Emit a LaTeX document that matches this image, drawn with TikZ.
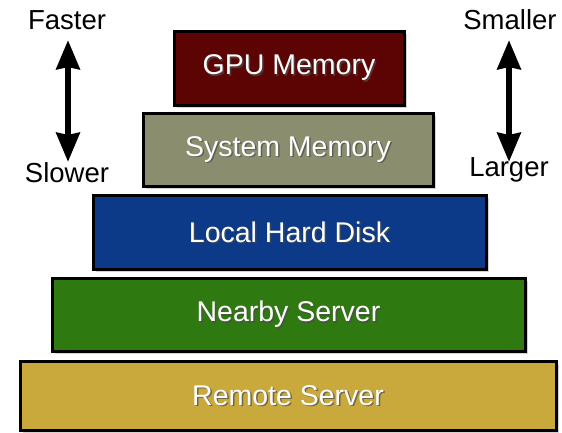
\documentclass[tikz,border=0pt]{standalone}
\usepackage{fontspec}
\setmainfont{Liberation Sans}
\usetikzlibrary{arrows.meta,shadows}
\definecolor{gpuc}{HTML}{5C0303}
\definecolor{sysc}{HTML}{8A8E6E}
\definecolor{hddc}{HTML}{0C3A88}
\definecolor{nbc}{HTML}{2F7A10}
\definecolor{rmc}{HTML}{C9A83C}
\tikzset{
  tier/.style={draw=black, line width=3pt, inner sep=0pt,
    drop shadow={shadow xshift=3pt, shadow yshift=-3pt, opacity=0.35}},
  tiertext/.style={text=white, font=\fontsize{28.5}{30}\selectfont},
  side/.style={font=\fontsize{27.5}{30}\selectfont, text=black},
  dblarrow/.style={line width=6.5pt, arrows={Stealth[length=29pt,width=23pt,inset=2pt]-Stealth[length=29pt,width=23pt,inset=2pt]}}
}
\newcommand{\tierbox}[6]{%
  \node[tier, fill=#6, minimum width=#3pt-#1pt, minimum height=#4pt-#2pt] (#5) at ({(#1+#3)/2}, {(#2+#4)/2}) {};
}
\begin{document}
\begin{tikzpicture}[x=1pt,y=-1pt]
\useasboundingbox (0,0) rectangle (562,432);
\tierbox{174}{31}{404}{105}{gpu}{gpuc}
\tierbox{143}{113}{433}{186}{sys}{sysc}
\tierbox{93}{195}{486}{269}{hdd}{hddc}
\tierbox{52}{278}{525}{351}{nb}{nbc}
\tierbox{20}{361}{556}{430}{rm}{rmc}
\foreach \n/\t in {gpu/GPU Memory, sys/System Memory, hdd/Local Hard Disk, nb/Nearby Server, rm/Remote Server}{
  \node[tiertext, text=black!70, opacity=0.7] at ([xshift=1.5pt,yshift=-1.5pt]\n.center) {\t};
  \node[tiertext] (\n t) at (\n.center) {\t};
}
\node[side] (fast) at (67,20) {Faster};
\node[side] (slow) at (67,173) {Slower};
\node[side] (small) at (510,20) {Smaller};
\node[side] (large) at (509,170) {Larger};
\coordinate (fa) at (68,40);
\coordinate (sa) at (68,162);
\coordinate (sm) at (509,40);
\coordinate (la) at (509,162);
\draw[dblarrow] (fa) -- (sa);
\draw[dblarrow] (sm) -- (la);
\end{tikzpicture}
\end{document}
